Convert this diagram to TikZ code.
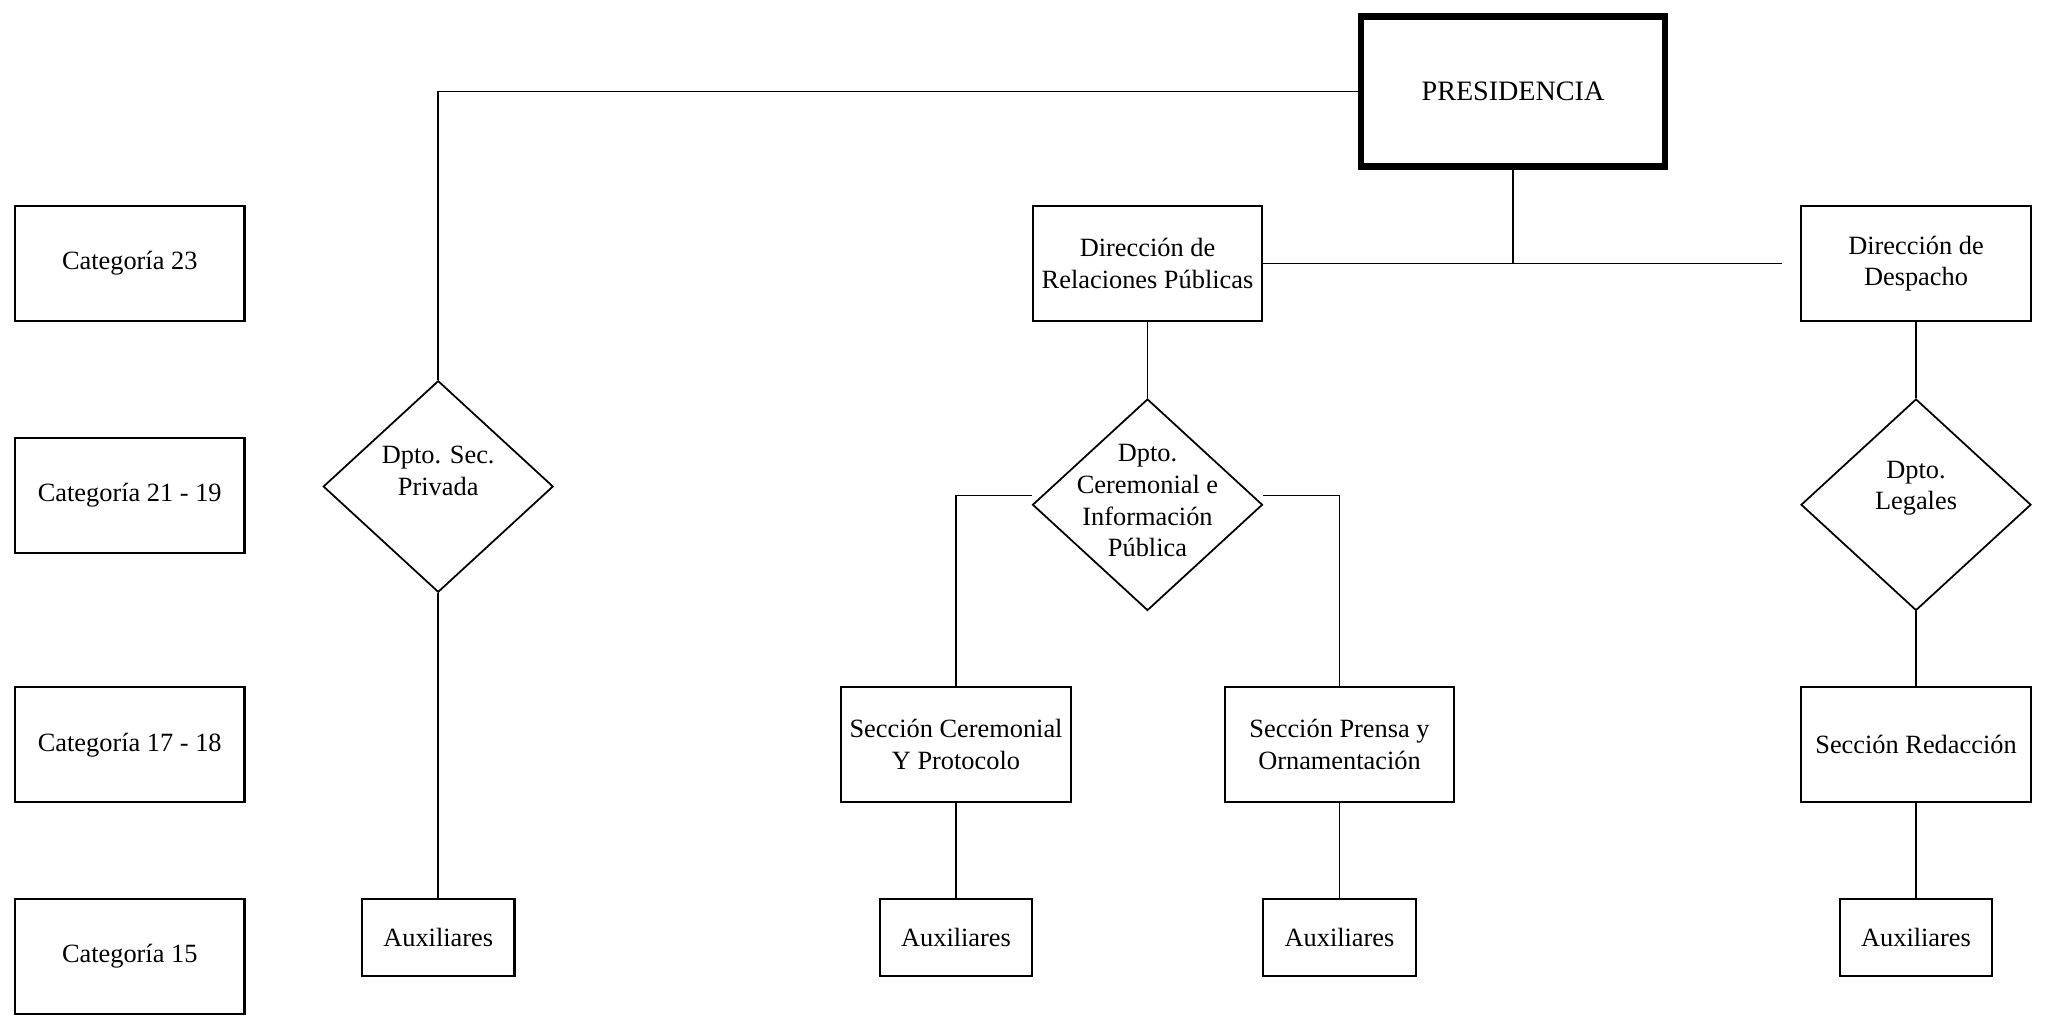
\documentclass[tikz,border=0pt]{standalone}
\usepackage{fontspec}
\setmainfont{Liberation Serif}
\usetikzlibrary{shapes.geometric}

\begin{document}
\begin{tikzpicture}[
    font=\fontsize{15}{18}\selectfont,
    box/.style={draw, line width=1.2pt, minimum width=4.59cm, minimum height=2.3cm, align=center, inner sep=2pt},
    auxbox/.style={draw, line width=1.2pt, minimum width=3.05cm, minimum height=1.54cm},
    dpto/.style={draw, diamond, line width=1pt, minimum width=4.6cm, minimum height=4.23cm, inner sep=0pt},
    conn/.style={line width=1pt}
  ]
    \useasboundingbox (0,0) rectangle (40.9,20.32);

    % Category column
    \foreach \i/\y/\c in {1/15.05/23, 2/10.41/21 - 19, 3/5.425/17 - 18, 4/1.19/15} {
      \node[box] (cat\i) at (2.595,\y) {Categoría \c};
    }

    % Top level
    \node[draw, line width=3.5pt, minimum width=6.08cm, minimum height=3.0cm, font=\fontsize{16}{19}\selectfont] (pres) at (30.26,18.49) {PRESIDENCIA};
    \node[box] (dirrp) at (22.95,15.05) {Dirección de\\Relaciones Públicas};
    \node[box] (dirdesp) at (38.32,15.05) {Dirección de\\Despacho};
    \coordinate (despend) at (35.63,15.05);

    % Departments
    \node[dpto, label={[align=center, yshift=0.31cm]center:Dpto. Sec.\\Privada}] (dptopriv) at (8.764,10.59) {};
    \node[dpto, label={[align=center, yshift=0.08cm]center:Dpto.\\Ceremonial e\\Información\\Pública}] (dptocer) at (22.95,10.225) {};
    \node[dpto, label={[align=center, yshift=0.33cm]center:Dpto.\\Legales}] (dptoleg) at (38.32,10.225) {};

    % Sections
    \node[box] (seccer) at (19.12,5.425) {Sección Ceremonial\\Y Protocolo};
    \node[box] (secpren) at (26.79,5.425) {Sección Prensa y\\Ornamentación};
    \node[box] (secred) at (38.32,5.425) {Sección Redacción};

    % Auxiliares row
    \foreach \i/\x in {1/8.764, 2/19.12, 3/26.79, 4/38.32} {
      \node[auxbox] (aux\i) at (\x,1.578) {Auxiliares};
    }

    % Connectors
    \draw[conn] (pres.west) -| (dptopriv.north);
    \draw[conn] (pres.south) -- (pres.south |- dirrp.east);
    \draw[conn] (dirrp.east) -- (despend);
    \draw[conn] ([yshift=0.185cm]dptocer.west) -| (seccer.north);
    \draw[conn] ([yshift=0.185cm]dptocer.east) -| (secpren.north);
    \foreach \a/\b in {dirrp/dptocer, dirdesp/dptoleg, dptoleg/secred, dptopriv/aux1, seccer/aux2, secpren/aux3, secred/aux4} {
      \draw[conn] (\a.south) -- (\b.north);
    }
\end{tikzpicture}
\end{document}
